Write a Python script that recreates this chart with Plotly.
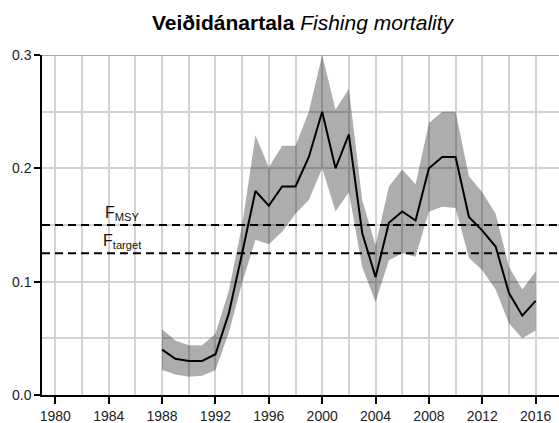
import plotly.graph_objects as go

years = list(range(1988, 2017))
f_mid = [0.040, 0.032, 0.030, 0.030, 0.036, 0.072, 0.125, 0.180, 0.167, 0.184,
         0.184, 0.210, 0.250, 0.200, 0.230, 0.143, 0.104, 0.152, 0.162, 0.154,
         0.200, 0.210, 0.210, 0.157, 0.145, 0.131, 0.090, 0.070, 0.083]
f_upper = [0.058, 0.048, 0.044, 0.044, 0.054, 0.092, 0.150, 0.229, 0.201, 0.220,
           0.220, 0.250, 0.300, 0.252, 0.270, 0.172, 0.132, 0.184, 0.199, 0.186,
           0.240, 0.250, 0.250, 0.193, 0.179, 0.160, 0.113, 0.093, 0.109]
f_lower = [0.022, 0.018, 0.016, 0.017, 0.022, 0.055, 0.099, 0.137, 0.133, 0.144,
           0.160, 0.172, 0.200, 0.162, 0.179, 0.113, 0.082, 0.119, 0.125, 0.122,
           0.162, 0.166, 0.165, 0.121, 0.110, 0.093, 0.063, 0.050, 0.057]

f_msy = 0.15
f_target = 0.125

x_ticks = list(range(1980, 2017, 4))
y_ticks = [0.0, 0.1, 0.2, 0.3]
y_tick_text = ["0.0", "0.1", "0.2", "0.3"]

FONT = "Liberation Sans, Arial, Helvetica, sans-serif"
GRID = "#d2d2d2"

fig = go.Figure()

fig.add_trace(go.Scatter(
    x=years + years[::-1], y=f_upper + f_lower[::-1],
    fill="toself", fillcolor="rgba(0,0,0,0.32)", line=dict(width=0),
    mode="lines", hoverinfo="skip", showlegend=False))

fig.add_trace(go.Scatter(
    x=years, y=f_mid, mode="lines",
    line=dict(color="black", width=2), showlegend=False))

for val in (f_msy, f_target):
    fig.add_hline(y=val, line=dict(color="black", width=2, dash="8px,5px"))

# top border
fig.add_shape(type="line", xref="paper", yref="y", x0=0, x1=1, y0=0.3, y1=0.3,
              line=dict(color="#8c8c8c", width=1.5))

fig.add_annotation(x=1985, y=f_msy, xref="x", yref="y",
                   text="F<sub>MSY</sub>", showarrow=False,
                   xanchor="center", yanchor="bottom", yshift=0,
                   font=dict(family=FONT, size=16, color="#111"))
fig.add_annotation(x=1985, y=f_target, xref="x", yref="y",
                   text="F<sub>target</sub>", showarrow=False,
                   xanchor="center", yanchor="bottom", yshift=0,
                   font=dict(family=FONT, size=16, color="#111"))

fig.update_layout(
    width=559, height=423,
    margin=dict(l=42, r=0, t=55, b=28),
    paper_bgcolor="white", plot_bgcolor="white",
    title=dict(text="<b>Veiðidánartala</b> <i>Fishing mortality</i>",
               xref="container", x=302.5 / 559, xanchor="center",
               yref="container", y=1 - 22.6 / 423, yanchor="middle",
               font=dict(family=FONT, size=21, color="black")),
    font=dict(family=FONT, size=14, color="#222"),
    xaxis=dict(range=[1979.0, 2017.75], tickvals=x_ticks,
               ticks="outside", ticklen=7, tickwidth=2, tickcolor="black",
               showline=True, linecolor="black", linewidth=1.5,
               showgrid=True, gridcolor=GRID, gridwidth=2, zeroline=False,
               minor=dict(dtick=2, tick0=1980, showgrid=True, gridcolor=GRID,
                          gridwidth=2, ticks=""),
               tickfont=dict(family=FONT, size=14, color="#222")),
    yaxis=dict(range=[0, 0.3], tickvals=y_ticks, ticktext=y_tick_text,
               ticks="outside", ticklen=6, tickwidth=1.5, tickcolor="black",
               showline=True, linecolor="black", linewidth=1.5,
               showgrid=True, gridcolor=GRID, gridwidth=2, zeroline=False,
               minor=dict(dtick=0.05, tick0=0, showgrid=True, gridcolor=GRID,
                          gridwidth=2, ticks=""),
               tickfont=dict(family=FONT, size=14, color="#222")),
)

fig.write_html(
    "out.html",
    config={"displayModeBar": False},
    post_script="document.body.style.margin='0';document.body.style.overflow='hidden';",
)
